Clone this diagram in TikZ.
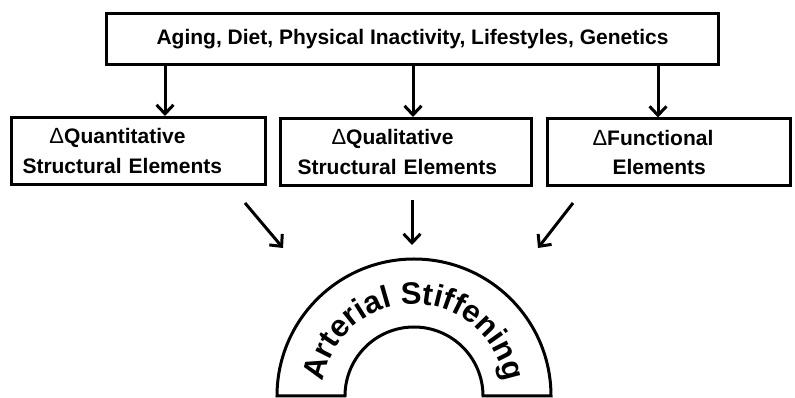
\documentclass[tikz,border=0pt]{standalone}
\usepackage{fontspec}
\setmainfont{Liberation Sans}
\usetikzlibrary{graphs,arrows.meta,decorations.text}

\newcommand{\dlt}{{\mdseries\fontsize{22}{22}\selectfont Δ}}
\newcommand{\arcfont}{\bfseries\fontsize{31}{31}\selectfont}

\begin{document}
\begin{tikzpicture}[
x=1pt,y=1pt,
>={Straight Barb[length=9pt,width=17pt]},
line width=3pt,
font=\bfseries\fontsize{21}{29}\selectfont,
factors/.style={%
    rectangle,
    draw=black,
    minimum width=612pt,
    minimum height=51pt,
},
box/.style={%
    rectangle,
    draw=black,
    minimum height=67pt,
    inner xsep=11pt,
    text width=#1,
    align=left,
},
]
\useasboundingbox (0,0) rectangle (795,398);

% Nodes
\node[factors]      at (412.5,359)  (risk)  {Aging, Diet, Physical Inactivity, Lifestyles, Genetics};
\node[box=232pt]    at (138.5,247)  (quant) {\hspace*{27pt}\dlt Quantitative\\Structural Elements};
\node[box=229pt]    at (406,246)    (qual)  {\hspace*{40pt}\dlt Qualitative\\\hspace*{6pt}Structural Elements};
\node[box=221pt]    at (669,245.5)  (func)  {\hspace*{34pt}\dlt Functional\\\hspace*{54pt}Elements};

\coordinate (quantin)   at ([xshift=26.5pt]quant.north);
\coordinate (qualin)    at ([xshift=7pt]qual.north);
\coordinate (funcin)    at ([xshift=-11pt]func.north);
\coordinate (riskq)     at (risk.south -| quantin);
\coordinate (riskl)     at (risk.south -| qualin);
\coordinate (riskf)     at (risk.south -| funcin);

\coordinate (quantout)  at (245,195);
\coordinate (qualout)   at (412,198);
\coordinate (funcout)   at (573,195);
\coordinate (archl)     at (283,150);
\coordinate (archm)     at (412,153);
\coordinate (archr)     at (538,150);

% Arch
\coordinate (arch)      at (414,2);
\draw ([xshift=-137pt]arch) arc[start angle=180,end angle=0,radius=137]
    -- ([xshift=69pt]arch) arc[start angle=0,end angle=180,radius=69] -- cycle;
\path[decorate,decoration={text along path,text align=center,
    text={|\arcfont|Arterial Stiffening}}]
    ([xshift=-92pt]arch) arc[start angle=180,end angle=0,radius=92];

% Lines
\graph [use existing nodes] {
    riskq -> quantin;
    riskl -> qualin;
    riskf -> funcin;
    quantout -> archl;
    qualout -> archm;
    funcout -> archr;
};
\end{tikzpicture}
\end{document}
